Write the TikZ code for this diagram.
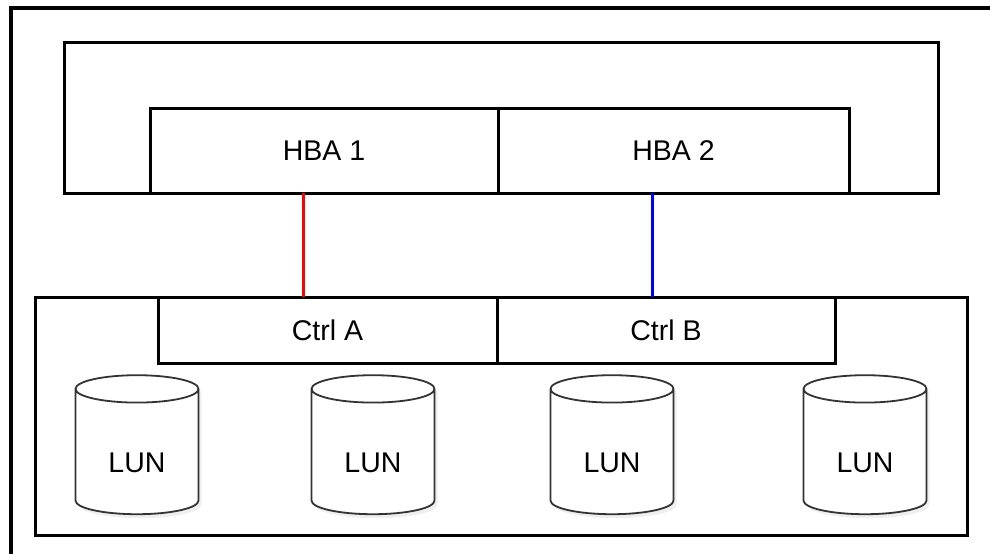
\documentclass[tikz,border=0pt]{standalone}
\usepackage{fontspec}
\setmainfont{Liberation Sans}
\usetikzlibrary{shapes.geometric,shadows}

\tikzset{
	box/.style={draw, fill=white, line width=3pt, inner sep=0pt, outer sep=0pt},
	lun/.style={cylinder, shape border rotate=90, aspect=0.48, draw=black!80, line width=1.8pt,
		fill=white, minimum width=123pt, minimum height=139pt, inner sep=0pt, outer sep=0pt,
		text height=40pt, text depth=0pt,
		drop shadow={opacity=0.12, shadow xshift=3pt, shadow yshift=-4pt}},
	link/.style={line width=3pt}
}

\begin{document}
\begin{tikzpicture}[x=1pt, y=-1pt, font=\fontsize{28.5}{34}\selectfont]
		\useasboundingbox (0,0) rectangle (990,554);
		\draw[line width=3.3pt] (11,554) -- (11,8) -- (990,8);

		% host with its two HBAs
		\node[box, minimum width=874pt, minimum height=151pt] (host) at (501,117.5) {};
		\node[box, minimum width=348pt, minimum height=85pt] (hba1) at (324,150.5) {HBA 1};
		\node[box, minimum width=351pt, minimum height=85pt] (hba2) at (673.5,150.5) {HBA 2};

		% storage array
		\node[box, minimum width=932pt, minimum height=238pt] (array) at (501,416) {};
		\node[box, minimum width=339pt, minimum height=66pt] (ctrla) at (327.5,330) {Ctrl A};
		\node[box, minimum width=338pt, minimum height=66pt] (ctrlb) at (666,330) {Ctrl B};

		\node[lun] (lun1) at (137,452) {LUN};
		\node[lun] (lun2) at (373,452) {LUN};
		\node[lun] (lun3) at (612,452) {LUN};
		\node[lun] (lun4) at (865,452) {LUN};

		\draw[link, red] (hba1.south -| 303,0) -- (ctrla.north -| 303,0);
		\draw[link, blue] (hba2.south -| 652,0) -- (ctrlb.north -| 652,0);
	\end{tikzpicture}
\end{document}
